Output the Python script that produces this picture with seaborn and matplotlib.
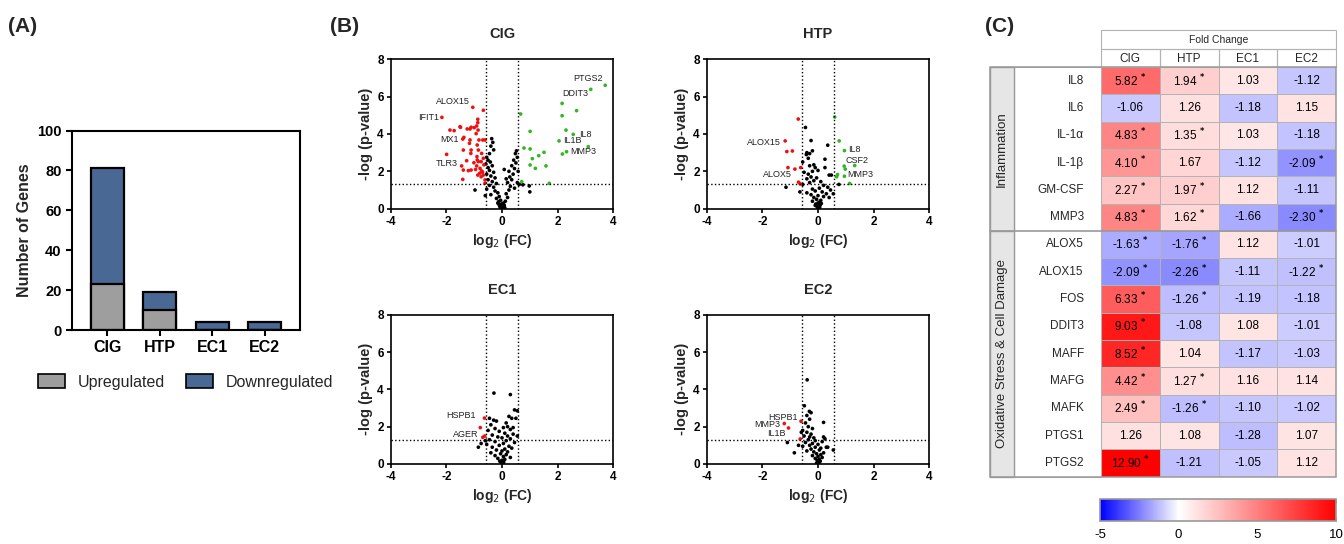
import matplotlib
matplotlib.use("Agg")
import matplotlib.pyplot as plt
import seaborn as sns
import pandas as pd
from matplotlib.colors import LinearSegmentedColormap
from matplotlib.patches import Rectangle, Patch

# ---------------- data ----------------
groups = ["CIG", "HTP", "EC1", "EC2"]
n_up = [23, 10, 0, 0]
n_down = [58, 9, 4, 4]

# volcano points: (log2 FC, -log p)
cig_down = [(-2.16, 4.89), (-1.05, 5.43), (-0.67, 5.27), (-0.87, 4.79), (-0.87, 4.61), (-0.91, 4.43),
            (-1.87, 4.21), (-1.72, 4.18), (-1.49, 4.36), (-1.25, 4.27), (-1.15, 4.27), (-1.11, 4.36),
            (-1.00, 4.34), (-0.86, 4.21), (-0.93, 4.02), (-1.41, 3.73), (-1.15, 3.68), (-0.83, 3.68),
            (-0.69, 3.68), (-0.61, 3.68), (-1.17, 3.50), (-0.89, 3.41), (-1.99, 2.91), (-1.39, 3.14),
            (-1.11, 3.14), (-0.85, 3.14), (-1.12, 2.96), (-0.90, 2.79), (-0.73, 2.96), (-0.67, 2.70),
            (-0.89, 2.61), (-0.85, 2.52), (-0.75, 2.52), (-1.01, 2.46), (-1.45, 2.29), (-1.27, 2.57),
            (-1.39, 2.07), (-1.21, 2.04), (-1.11, 2.07), (-0.91, 2.29), (-0.79, 2.16), (-0.73, 2.02),
            (-0.87, 1.80), (-0.75, 1.71), (-0.67, 1.80), (-1.41, 1.57), (-0.61, 1.54), (-0.61, 1.36),
            (-0.65, 2.35), (-0.70, 1.95), (-0.95, 2.10), (-0.80, 1.90), (-1.37, 3.82), (-1.51, 4.39)]
cig_up = [(3.71, 6.61), (3.19, 6.39), (2.16, 5.64), (2.68, 5.25), (0.67, 5.07), (2.16, 4.98),
          (1.01, 4.14), (2.30, 4.21), (2.56, 3.98), (2.05, 3.63), (3.10, 3.32), (2.32, 3.05),
          (2.17, 2.93), (0.79, 3.25), (1.01, 3.20), (1.51, 3.02), (1.32, 2.84), (1.09, 2.68),
          (1.01, 2.34), (1.20, 2.16), (1.58, 2.29), (0.71, 1.45), (1.70, 1.36)]
cig_ns = [(-0.37, 3.75), (-0.33, 3.55), (-0.40, 3.35), (-0.30, 3.15), (-0.45, 2.95), (-0.55, 2.75),
          (-0.50, 2.60), (-0.42, 2.50), (-0.58, 2.40), (-0.35, 2.30), (-0.50, 2.20), (-0.45, 2.05),
          (-0.30, 1.95), (-0.55, 1.85), (-0.40, 1.75), (-0.25, 1.65), (-0.50, 1.55), (-0.35, 1.45),
          (-0.20, 1.35), (-0.45, 1.25), (-0.30, 1.15), (-0.55, 1.05), (-0.25, 0.95), (-0.15, 0.85),
          (-0.40, 0.75), (-0.10, 0.65), (-0.20, 0.55), (-0.05, 0.45), (-0.12, 0.38), (0.05, 0.30),
          (-0.02, 0.25), (0.08, 0.18), (-0.08, 0.12), (0.02, 0.08), (0.10, 0.05), (-0.05, 0.03),
          (0.00, 0.15), (0.05, 0.22), (-0.15, 0.30), (0.12, 0.40), (0.20, 0.60), (0.15, 0.80),
          (0.25, 1.00), (0.30, 1.20), (0.20, 1.40), (0.35, 1.55), (0.28, 1.70), (0.40, 1.85),
          (0.25, 2.00), (0.45, 2.15), (0.35, 2.30), (0.50, 2.45), (0.42, 2.60), (0.55, 2.75),
          (0.48, 2.95), (0.52, 3.10), (0.58, 2.00), (0.55, 1.40), (0.45, 1.10), (0.62, 1.30),
          (0.75, 1.28), (1.00, 0.90), (0.98, 1.22), (-0.97, 1.00), (-0.60, 0.70), (0.08, 2.10),
          (0.15, 1.60), (-0.10, 0.20), (0.03, 0.10)]

htp_down = [(-0.71, 4.80), (-1.18, 3.63), (-1.12, 3.06), (-0.92, 3.09), (-1.08, 2.20),
            (-0.83, 2.12), (-0.62, 2.20), (-0.70, 1.42), (-0.64, 1.33)]
htp_up = [(0.60, 4.91), (0.76, 3.63), (0.95, 3.11), (1.32, 2.31), (0.94, 2.28), (0.98, 2.12),
          (0.95, 1.74), (0.70, 1.83), (0.67, 1.71), (1.14, 1.35)]
htp_ns = [(-0.45, 4.35), (-0.25, 3.65), (-0.40, 3.00), (-0.42, 2.90), (0.35, 3.40), (-0.55, 2.50),
          (-0.35, 2.70), (0.25, 2.65), (-0.15, 2.35), (-0.30, 2.30), (-0.10, 2.20), (0.00, 2.05),
          (-0.20, 2.00), (0.25, 2.20), (-0.50, 1.95), (-0.35, 1.85), (0.40, 1.80), (0.48, 1.80),
          (-0.25, 1.70), (-0.05, 1.65), (-0.40, 1.60), (-0.15, 1.50), (0.10, 1.45), (-0.30, 1.40),
          (-0.55, 1.30), (0.20, 1.25), (0.35, 1.15), (0.05, 1.10), (-0.20, 1.05), (0.45, 1.00),
          (-0.10, 0.95), (0.15, 0.90), (-0.40, 0.85), (0.30, 0.80), (-0.25, 0.75), (0.00, 0.70),
          (0.20, 0.65), (-0.15, 0.60), (0.40, 0.60), (-0.05, 0.50), (0.10, 0.45), (-0.20, 0.40),
          (0.05, 0.35), (0.00, 0.30), (-0.08, 0.25), (0.08, 0.20), (0.02, 0.15), (-0.03, 0.10),
          (0.06, 0.07), (0.00, 0.03), (-0.10, 0.18), (0.12, 0.28), (-1.15, 1.15), (0.75, 1.30),
          (-0.65, 0.90), (0.55, 0.80), (-0.30, 2.95), (-0.20, 3.10)]

ec1_down = [(-0.63, 2.46), (-0.78, 1.95), (-0.69, 1.43), (-0.62, 1.50)]
ec1_up = []
ec1_ns = [(-0.29, 3.80), (0.30, 3.72), (0.45, 2.90), (0.55, 2.85), (0.25, 2.55), (0.35, 2.45),
          (-0.45, 2.45), (-0.30, 2.35), (-0.20, 2.30), (0.50, 2.45), (0.15, 2.20), (-0.40, 2.10),
          (0.20, 2.00), (0.05, 1.95), (-0.25, 1.90), (0.30, 1.85), (-0.50, 1.80), (-0.10, 1.75),
          (0.10, 1.65), (0.40, 1.60), (-0.35, 1.55), (0.20, 1.50), (-0.15, 1.45), (0.00, 1.40),
          (0.30, 1.35), (-0.45, 1.30), (0.15, 1.25), (-0.25, 1.20), (0.45, 1.15), (0.05, 1.10),
          (-0.55, 1.05), (-0.10, 1.00), (0.25, 0.95), (-0.35, 0.90), (0.35, 0.85), (0.10, 0.80),
          (-0.20, 0.75), (0.00, 0.70), (0.20, 0.65), (-0.40, 0.60), (-0.05, 0.55), (0.15, 0.50),
          (-0.25, 0.45), (0.05, 0.40), (0.30, 0.35), (-0.15, 0.30), (0.10, 0.25), (0.00, 0.20),
          (-0.08, 0.15), (0.06, 0.10), (0.02, 0.05), (-0.02, 0.02), (-0.85, 0.90), (-0.75, 1.10),
          (-0.60, 1.25), (0.55, 1.50), (0.40, 1.95)]

ec2_down = [(-0.61, 2.29), (-1.21, 2.17), (-1.06, 1.93), (-0.64, 1.34)]
ec2_up = []
ec2_ns = [(-0.39, 4.51), (-0.49, 3.12), (-0.31, 2.82), (0.20, 2.23), (-0.40, 2.60), (-0.30, 2.40),
          (-0.45, 2.20), (-0.35, 2.00), (-0.55, 1.80), (-0.40, 1.70), (-0.25, 1.60), (-0.50, 1.50),
          (-0.30, 1.45), (-0.15, 1.40), (0.20, 1.45), (0.25, 1.35), (-0.35, 1.30), (-0.10, 1.25),
          (0.15, 1.20), (-0.45, 1.15), (-0.20, 1.10), (0.00, 1.05), (0.30, 0.90), (-0.30, 1.00),
          (-0.55, 0.95), (-0.10, 0.90), (0.10, 0.85), (-0.25, 0.80), (0.05, 0.75), (-0.40, 0.70),
          (-0.15, 0.65), (0.20, 0.60), (-0.05, 0.55), (0.10, 0.50), (-0.20, 0.45), (0.00, 0.40),
          (0.15, 0.35), (-0.10, 0.30), (0.05, 0.25), (-0.03, 0.20), (0.08, 0.15), (0.00, 0.10),
          (-0.05, 0.05), (0.03, 0.02), (-1.10, 1.15), (-0.85, 0.60), (-0.70, 1.00), (0.55, 0.75),
          (0.35, 0.90), (-0.20, 1.90), (-0.25, 2.75), (-0.60, 1.70)]

cig_labels = {"PTGS2": (3.71, 6.61), "DDIT3": (3.19, 6.39), "IL8": (2.56, 3.98), "IL1B": (2.05, 3.63),
              "MMP3": (2.32, 3.05), "ALOX15": (-1.05, 5.43), "IFIT1": (-2.16, 4.89),
              "MX1": (-1.41, 3.73), "TLR3": (-1.45, 2.29)}
htp_labels = {"ALOX15": (-1.18, 3.63), "ALOX5": (-0.83, 2.12), "IL8": (0.95, 3.11),
              "CSF2": (1.32, 2.31), "MMP3": (0.95, 1.74)}
ec1_labels = {"HSPB1": (-0.63, 2.46), "AGER": (-0.69, 1.43)}
ec2_labels = {"HSPB1": (-0.61, 2.29), "MMP3": (-1.21, 2.17), "IL1B": (-1.06, 1.93)}

# label placement in points + alignment (style only)
label_offsets = {
    "CIG": {"PTGS2": (-2, 5, "right"), "DDIT3": (-2, -3, "right"), "IL8": (4, 0, "left"),
            "IL1B": (3, 0, "left"), "MMP3": (3, 0, "left"), "ALOX15": (-2, 4, "right"),
            "IFIT1": (-2, 0, "right"), "MX1": (-3, 0, "right"), "TLR3": (-3, 2, "right")},
    "HTP": {"ALOX15": (-3, -1, "right"), "ALOX5": (-2, -4, "right"), "IL8": (3, 1, "left"),
            "CSF2": (-7, 4, "left"), "MMP3": (2, 1, "left")},
    "EC1": {"HSPB1": (-6, 2, "right"), "AGER": (-3, 2, "right")},
    "EC2": {"HSPB1": (-2, 2.5, "right"), "MMP3": (-3, -1, "right"), "IL1B": (-2, -4, "right")},
}

genes = ["IL8", "IL6", "IL-1α", "IL-1β", "GM-CSF", "MMP3", "ALOX5", "ALOX15", "FOS",
         "DDIT3", "MAFF", "MAFG", "MAFK", "PTGS1", "PTGS2"]
fc_cig = [5.82, -1.06, 4.83, 4.10, 2.27, 4.83, -1.63, -2.09, 6.33, 9.03, 8.52, 4.42, 2.49, 1.26, 12.90]
fc_htp = [1.94, 1.26, 1.35, 1.67, 1.97, 1.62, -1.76, -2.26, -1.26, -1.08, 1.04, 1.27, -1.26, 1.08, -1.21]
fc_ec1 = [1.03, -1.18, 1.03, -1.12, 1.12, -1.66, 1.12, -1.11, -1.19, 1.08, -1.17, 1.16, -1.10, -1.28, -1.05]
fc_ec2 = [-1.12, 1.15, -1.18, -2.09, -1.11, -2.30, -1.01, -1.22, -1.18, -1.01, -1.03, 1.14, -1.02, 1.07, 1.12]
sig_cig = [1, 0, 1, 1, 1, 1, 1, 1, 1, 1, 1, 1, 1, 0, 1]
sig_htp = [1, 0, 1, 0, 1, 1, 1, 1, 1, 0, 0, 1, 1, 0, 0]
sig_ec1 = [0] * 15
sig_ec2 = [0, 0, 0, 1, 0, 1, 0, 1, 0, 0, 0, 0, 0, 0, 0]
gene_groups = [("Inflammation", 0, 6), ("Oxidative Stress & Cell Damage", 6, 15)]

# ---------------- style ----------------
sns.set_style("ticks")
plt.rcParams["font.family"] = ["Liberation Sans", "DejaVu Sans"]
plt.rcParams["mathtext.fontset"] = "dejavusans"
plt.rcParams["axes.unicode_minus"] = False
plt.rcParams["axes.edgecolor"] = "black"
plt.rcParams["xtick.color"] = "black"
plt.rcParams["ytick.color"] = "black"

fig = plt.figure(figsize=(13.44, 5.44), dpi=100)
W, H = 1344, 544


def box(x0, y_top, x1, y_bot):
    return [x0 / W, 1 - y_bot / H, (x1 - x0) / W, (y_bot - y_top) / H]


for txt, x in (("(A)", 8), ("(B)", 330), ("(C)", 985)):
    fig.text(x / W, 1 - 27 / H, txt, fontsize=15, fontweight="bold", va="center")

# ---------------- panel A ----------------
blue = "#4a6894"
grey = "#9e9e9e"
axA = fig.add_axes(box(72, 130.5, 300, 330))
bars = pd.DataFrame({"group": groups, "up": n_up,
                     "total": [u + d for u, d in zip(n_up, n_down)]})
sns.barplot(data=bars, x="group", y="total", color=blue, saturation=1, width=0.63,
            edgecolor="black", linewidth=1.6, ax=axA)
sns.barplot(data=bars, x="group", y="up", color=grey, saturation=1, width=0.63,
            edgecolor="black", linewidth=1.6, ax=axA)
axA.set_ylim(0, 100)
axA.set_xlim(-0.67, 3.67)
axA.set_yticks(range(0, 101, 20))
axA.set_xlabel("")
axA.set_ylabel("Number of Genes", fontsize=11.5, fontweight="bold")
axA.tick_params(axis="y", labelsize=10.5, width=1.5, length=4)
axA.tick_params(axis="x", labelsize=11.5, width=1.5, length=4)
plt.setp(axA.get_xticklabels() + axA.get_yticklabels(), fontweight="bold")
for sp in axA.spines.values():
    sp.set_linewidth(1.5)
handles = [Patch(facecolor=grey, edgecolor="black", linewidth=1.2, label="Upregulated"),
           Patch(facecolor=blue, edgecolor="black", linewidth=1.2, label="Downregulated")]
fig.legend(handles=handles, loc="center", bbox_to_anchor=(186 / W, 1 - 382 / H), ncol=2,
           frameon=False, fontsize=11.5, handlelength=1.7, handleheight=0.9,
           columnspacing=1.3, handletextpad=0.8)

# ---------------- panel B ----------------
pal = {"ns": "black", "down": "#ee1111", "up": "#33b524"}


def volcano(ax, title, down, up, ns, labels, offsets):
    rows = [(x, y, "ns") for x, y in ns] + [(x, y, "down") for x, y in down] + \
           [(x, y, "up") for x, y in up]
    df = pd.DataFrame(rows, columns=["lfc", "nlp", "kind"])
    sns.scatterplot(data=df, x="lfc", y="nlp", hue="kind", palette=pal, s=7,
                    linewidth=0, legend=False, ax=ax)
    for v in (-0.585, 0.585):
        ax.axvline(v, color="black", ls=":", lw=1)
    ax.axhline(1.301, color="black", ls=":", lw=1)
    for name, (x, y) in labels.items():
        dx, dy, ha = offsets[name]
        ax.annotate(name, (x, y), xytext=(dx, dy), textcoords="offset points",
                    ha=ha, va="center", fontsize=6.5, color="#222222")
    ax.set_xlim(-4, 4)
    ax.set_ylim(0, 8)
    ax.set_xticks([-4, -2, 0, 2, 4])
    ax.set_yticks([0, 2, 4, 6, 8])
    ax.set_title(title, fontsize=10.5, fontweight="bold", pad=15)
    ax.set_xlabel("log$_{2}$ (FC)", fontsize=10, fontweight="bold", labelpad=3)
    ax.set_ylabel("-log (p-value)", fontsize=10.5, fontweight="bold", labelpad=3)
    ax.tick_params(labelsize=8.5, width=1.2, length=3, pad=2)
    plt.setp(ax.get_xticklabels() + ax.get_yticklabels(), fontweight="bold")
    for sp in ax.spines.values():
        sp.set_linewidth(1.2)


ax1 = fig.add_axes(box(390.7, 59.3, 613.3, 208.7))
ax2 = fig.add_axes(box(706.7, 59.3, 929.3, 208.7))
ax3 = fig.add_axes(box(390.7, 314.7, 613.3, 464))
ax4 = fig.add_axes(box(706.7, 314.7, 929.3, 464))
volcano(ax1, "CIG", cig_down, cig_up, cig_ns, cig_labels, label_offsets["CIG"])
volcano(ax2, "HTP", htp_down, htp_up, htp_ns, htp_labels, label_offsets["HTP"])
volcano(ax3, "EC1", ec1_down, ec1_up, ec1_ns, ec1_labels, label_offsets["EC1"])
volcano(ax4, "EC2", ec2_down, ec2_up, ec2_ns, ec2_labels, label_offsets["EC2"])

# ---------------- panel C ----------------
fc = pd.DataFrame({"CIG": fc_cig, "HTP": fc_htp, "EC1": fc_ec1, "EC2": fc_ec2}, index=genes)
sig = pd.DataFrame({"CIG": sig_cig, "HTP": sig_htp, "EC1": sig_ec1, "EC2": sig_ec2}, index=genes)
annot = fc.apply(lambda col: [f"{v:.2f}" + (" $^{\\mathbf{*}}$" if s else "")
                              for v, s in zip(col, sig[col.name])])

cmap = LinearSegmentedColormap.from_list("fc", [(0, "#0000ff"), (1 / 3, "#ffffff"), (1, "#ff0000")])
axC = fig.add_axes(box(1101, 67, 1336, 476.5))
cax = fig.add_axes(box(1100, 499, 1336, 521))
grid_c = "#b3b3b3"
sns.heatmap(fc, cmap=cmap, vmin=-5, vmax=10, annot=annot, fmt="",
            annot_kws={"fontsize": 8.5, "color": "black"},
            linewidths=0.7, linecolor=grid_c, cbar_ax=cax,
            cbar_kws={"orientation": "horizontal", "ticks": [-5, 0, 5, 10]}, ax=axC)
axC.set_xticks([])
axC.set_yticks([])
axC.set_xlabel("")
axC.set_ylabel("")

# header
axC.add_patch(Rectangle((0, -1.355), 4, 0.695, fill=False, ec=grid_c, lw=0.8, clip_on=False))
axC.text(2, -1.0, "Fold Change", ha="center", va="center", fontsize=7.5)
for j, g in enumerate(groups):
    axC.add_patch(Rectangle((j, -0.66), 1, 0.66, fill=False, ec=grid_c, lw=0.8, clip_on=False))
    axC.text(j + 0.5, -0.31, g, ha="center", va="center", fontsize=8.5)
# gene labels and group column
axC.add_patch(Rectangle((-1.48, 0), 1.48, 15, fc="white", ec=grid_c, lw=0.8, clip_on=False))
for name, r0, r1 in gene_groups:
    axC.add_patch(Rectangle((-1.89, r0), 0.41, r1 - r0, fc="#e6e6e6", ec="#999999",
                            lw=1, clip_on=False))
    axC.text(-1.685, (r0 + r1) / 2, name, rotation=90, ha="center", va="center", fontsize=9.5)
axC.plot([-1.89, 4], [6, 6], color="#999999", lw=1.2, clip_on=False)
axC.add_patch(Rectangle((-1.89, 0), 5.89, 15, fill=False, ec="#999999", lw=1.1, clip_on=False))
for i, g in enumerate(genes):
    axC.text(-0.29, i + 0.5, g, ha="right", va="center", fontsize=8.5)

cbar = axC.collections[0].colorbar
cbar.outline.set_edgecolor("#999999")
cbar.outline.set_linewidth(1.2)
cax.tick_params(labelsize=9.5, direction="in", length=3, color="#999999", top=True, pad=6)

fig.savefig("out.png", dpi=100)
